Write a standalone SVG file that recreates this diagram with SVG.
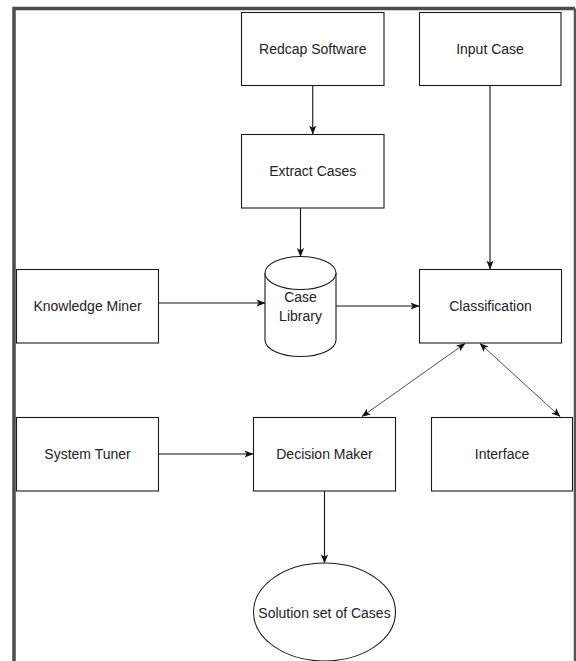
<svg xmlns="http://www.w3.org/2000/svg" width="576" height="661" viewBox="0 0 576 661">
<defs>
<style>
.box{fill:#ffffff;stroke:#1a1a1a;stroke-width:1.1}
.lbl{font-family:"Liberation Sans",Arial,Helvetica,sans-serif;font-size:14px;fill:#222;text-anchor:middle;dominant-baseline:central}
.edge{fill:none;stroke:#111;stroke-width:1.1}
.thin{fill:none;stroke:#222;stroke-width:0.8}
</style>
<marker id="ah" viewBox="0 0 10 8" refX="9.5" refY="4" markerWidth="9" markerHeight="7.5" markerUnits="userSpaceOnUse" orient="auto-start-reverse">
<path d="M0,0 L10,4 L0,8 L2.5,4 z" fill="#111"/>
</marker>
</defs>
<rect x="0" y="0" width="576" height="661" fill="#ffffff"/>
<g id="frame">
<path d="M14,661 V8.5 H575" fill="none" stroke="#4d4d4d" stroke-width="3.5"/>
<path d="M575,8.5 V661" fill="none" stroke="#555" stroke-width="2.5"/>
</g>
<g id="connectors">
<path class="edge" d="M312.75,85.5 V134" marker-end="url(#ah)"/>
<path class="edge" d="M300.5,208 V256.5" marker-end="url(#ah)"/>
<path class="edge" d="M490,85.5 V269" marker-end="url(#ah)"/>
<path class="edge" d="M159,303 H265" marker-end="url(#ah)"/>
<path class="edge" d="M330,306 H419" marker-end="url(#ah)"/>
<path class="thin" d="M465,343.5 L362,416.5" marker-start="url(#ah)" marker-end="url(#ah)"/>
<path class="thin" d="M480,343.5 L560,416.5" marker-start="url(#ah)" marker-end="url(#ah)"/>
<path class="edge" d="M159,454 H253" marker-end="url(#ah)"/>
<path class="edge" d="M324.5,491 V563" marker-end="url(#ah)"/>
</g>
<g id="redcap">
<rect class="box" x="241.5" y="12.5" width="142.5" height="73"/>
<text class="lbl" x="312.75" y="49">Redcap Software</text>
</g>
<g id="input-case">
<rect class="box" x="419.5" y="12.5" width="141.5" height="73"/>
<text class="lbl" x="490" y="49">Input Case</text>
</g>
<g id="extract-cases">
<rect class="box" x="241.5" y="134.5" width="142.5" height="73.5"/>
<text class="lbl" x="312.75" y="171">Extract Cases</text>
</g>
<g id="knowledge-miner">
<rect class="box" x="16.5" y="269.5" width="142" height="73.5"/>
<text class="lbl" x="87.5" y="306">Knowledge Miner</text>
</g>
<g id="case-library">
<path class="box" d="M265,273 A35.5,16.5 0 0 1 336,273 V340 A35.5,16.5 0 0 1 265,340 Z"/>
<path class="box" d="M265,273 A35.5,16.5 0 0 0 336,273" fill="none"/>
<text class="lbl" x="300.5" y="297">Case</text>
<text class="lbl" x="300.5" y="316">Library</text>
</g>
<g id="classification">
<rect class="box" x="419.5" y="269.5" width="142" height="73.5"/>
<text class="lbl" x="490.5" y="306">Classification</text>
</g>
<g id="system-tuner">
<rect class="box" x="16.5" y="417.5" width="142" height="73.5"/>
<text class="lbl" x="87.5" y="454">System Tuner</text>
</g>
<g id="decision-maker">
<rect class="box" x="253.5" y="417.5" width="142" height="73.5"/>
<text class="lbl" x="324.5" y="454">Decision Maker</text>
</g>
<g id="interface">
<rect class="box" x="431.5" y="417.5" width="141" height="73.5"/>
<text class="lbl" x="502" y="454">Interface</text>
</g>
<g id="solution-set">
<ellipse class="box" cx="324.5" cy="612" rx="71" ry="49"/>
<text class="lbl" x="324.5" y="613">Solution set of Cases</text>
</g>
</svg>
